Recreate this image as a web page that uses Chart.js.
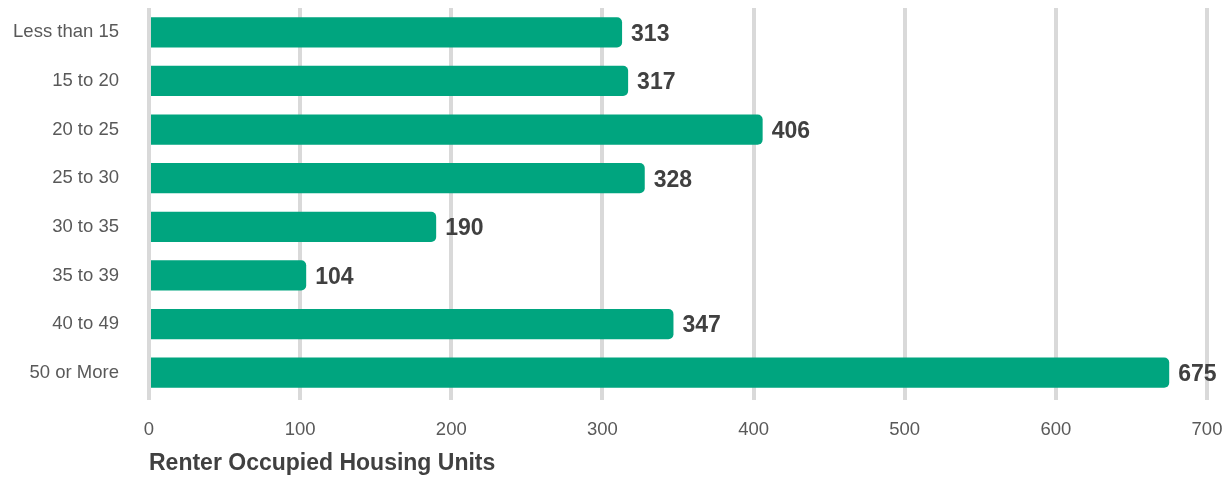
<!DOCTYPE html>
<html>
<head>
<meta charset="utf-8">
<script src="https://cdn.jsdelivr.net/npm/chart.js@4"></script>
<style>
  html, body { margin: 0; padding: 0; background: #fff; }
  #wrap { width: 1231px; height: 479px; }
</style>
</head>
<body>
<div id="wrap"><canvas id="rentChart"></canvas></div>
<script>
const categories = ["Less than 15", "15 to 20", "20 to 25", "25 to 30", "30 to 35", "35 to 39", "40 to 49", "50 or More"];
const renterUnits = [313, 317, 406, 328, 190, 104, 347, 675];
const xTicks = [0, 100, 200, 300, 400, 500, 600, 700];

const fontFamily = "Arial, 'Liberation Sans', sans-serif";

// value labels at the end of each bar
const barLabels = {
    id: "barLabels",
    afterDatasetsDraw(chart) {
        const ctx = chart.ctx;
        const meta = chart.getDatasetMeta(0);
        ctx.save();
        ctx.font = "bold 23px " + fontFamily;
        ctx.fillStyle = "#404040";
        ctx.textAlign = "left";
        ctx.textBaseline = "middle";
        meta.data.forEach((bar, i) => {
            ctx.fillText(renterUnits[i], bar.x + 9, bar.y + 2);
        });
        ctx.restore();
    }
};

new Chart(document.getElementById("rentChart"), {
    type: "bar",
    data: {
        labels: categories,
        datasets: [{
            label: "Renter Occupied Housing Units",
            data: renterUnits,
            backgroundColor: "#00A57F",
            borderRadius: 5,
            borderSkipped: "start",
            barPercentage: 0.62,
            categoryPercentage: 1
        }]
    },
    options: {
        indexAxis: "y",
        responsive: true,
        maintainAspectRatio: false,
        animation: false,
        layout: { padding: { top: 8, right: 24, bottom: 2, left: 0 } },
        plugins: {
            legend: { display: false },
            tooltip: { enabled: false }
        },
        scales: {
            x: {
                min: 0,
                max: 700,
                afterBuildTicks(axis) {
                    axis.ticks = xTicks.map(v => ({ value: v }));
                },
                afterFit(axis) {
                    axis.height = 80;
                    axis.paddingLeft = 0;
                    axis.paddingRight = 0;
                },
                grid: { color: "#D9D9D9", lineWidth: 4, drawTicks: true, tickLength: 3 },
                border: { display: false },
                ticks: {
                    padding: 19,
                    maxRotation: 0,
                    color: "#595959",
                    font: { family: fontFamily, size: 18.5 }
                },
                title: {
                    display: true,
                    text: "Renter Occupied Housing Units",
                    align: "start",
                    color: "#404040",
                    padding: { top: 10, bottom: 0 },
                    font: { family: fontFamily, size: 23, weight: "bold" }
                }
            },
            y: {
                grid: { display: false },
                border: { display: false },
                afterFit(axis) {
                    axis.width = 149;
                    axis.paddingTop = 0;
                    axis.paddingBottom = 0;
                },
                ticks: {
                    padding: 22,
                    color: "#595959",
                    font: { family: fontFamily, size: 18.5 }
                }
            }
        }
    },
    plugins: [barLabels]
});
</script>
</body>
</html>
